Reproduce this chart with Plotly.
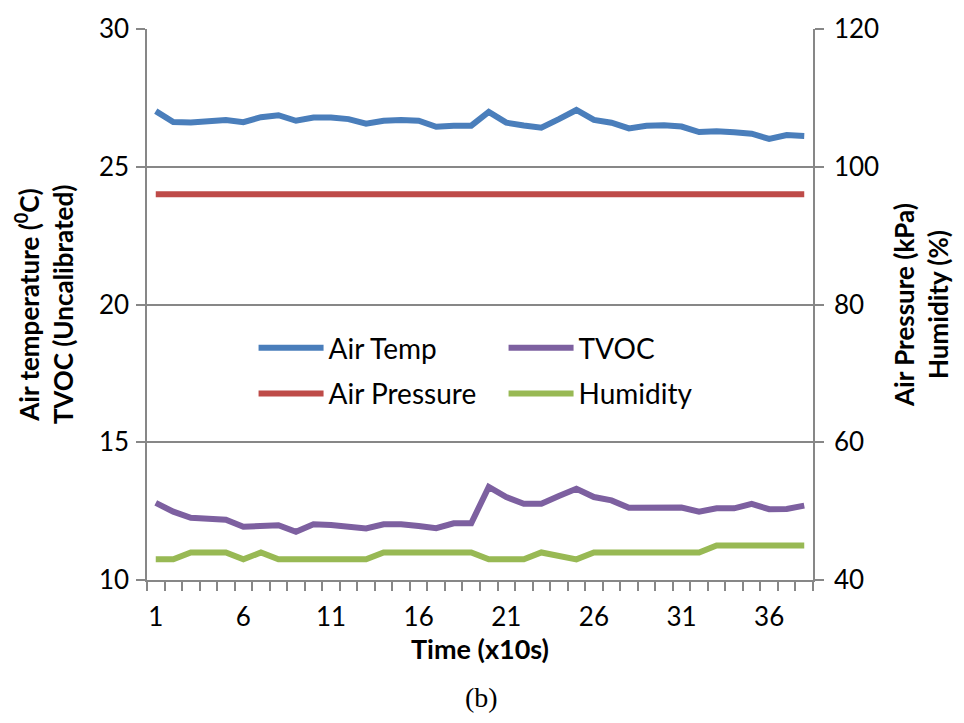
import plotly.graph_objects as go

time_idx = list(range(1, 39))
air_temp = [27.02, 26.62, 26.61, 26.67, 26.70, 26.62, 26.80, 26.87, 26.67, 26.79,
            26.79, 26.73, 26.56, 26.67, 26.70, 26.67, 26.45, 26.49, 26.49, 26.99,
            26.60, 26.50, 26.42, 26.73, 27.06, 26.70, 26.60, 26.39, 26.49, 26.51,
            26.46, 26.26, 26.29, 26.25, 26.20, 26.01, 26.15, 26.12]
tvoc = [12.80, 12.48, 12.26, 12.24, 12.19, 11.93, 11.95, 11.99, 11.75, 12.02,
        12.00, 11.95, 11.87, 12.02, 12.02, 11.96, 11.88, 12.06, 12.06, 13.38,
        13.01, 12.77, 12.77, 13.05, 13.31, 13.01, 12.89, 12.62, 12.62, 12.62,
        12.63, 12.48, 12.60, 12.60, 12.76, 12.57, 12.58, 12.70]
air_pressure = [96.0] * 38
humidity = [43, 43, 44, 44, 44, 43, 44, 43, 43, 43,
            43, 43, 43, 44, 44, 44, 44, 44, 44, 43,
            43, 43, 44, 43.5, 43, 44, 44, 44, 44, 44,
            44, 44, 45, 45, 45, 45, 45, 45]
x_tick_vals = [1, 6, 11, 16, 21, 26, 31, 36]

FONT = "Lato"
GREY = "#878787"
LW = 6

fig = go.Figure()
fig.add_trace(go.Scatter(x=time_idx, y=air_temp, name="Air Temp", mode="lines",
                         line=dict(color="#4A7EBB", width=LW), legend="legend"))
fig.add_trace(go.Scatter(x=time_idx, y=tvoc, name="TVOC", mode="lines",
                         line=dict(color="#7D60A0", width=LW), legend="legend"))
fig.add_trace(go.Scatter(x=time_idx, y=air_pressure, name="Air Pressure", mode="lines",
                         line=dict(color="#BE4B48", width=LW), yaxis="y2", legend="legend2"))
fig.add_trace(go.Scatter(x=time_idx, y=humidity, name="Humidity", mode="lines",
                         line=dict(color="#98B954", width=LW), yaxis="y2", legend="legend2"))

legend_common = dict(orientation="h", font=dict(family=FONT, size=28, color="black"),
                     bgcolor="rgba(0,0,0,0)", entrywidth=170, xanchor="left",
                     yanchor="middle", itemwidth=65)

fig.update_layout(
    width=964, height=723,
    margin=dict(l=147, r=151, t=19, b=143),
    paper_bgcolor="white", plot_bgcolor="white",
    font=dict(family=FONT, size=26, color="black"),
    xaxis=dict(range=[0.5, 38.5], tickvals=x_tick_vals, ticks="",
               showline=True, linecolor=GREY, linewidth=1.5, showgrid=False,
               zeroline=False, tickfont=dict(size=26), ticklabelstandoff=13,
               minor=dict(tick0=0.5, dtick=1, ticks="outside", ticklen=9,
                          tickcolor=GREY, tickwidth=1.5, showgrid=False),
               title=dict(text="<b>Time (x10s)</b>", standoff=6,
                          font=dict(size=27))),
    yaxis=dict(range=[10, 30], dtick=5, ticks="outside", ticklen=9, tickcolor=GREY,
               tickwidth=1.5, showline=True, linecolor=GREY, linewidth=1.5,
               gridcolor=GREY, gridwidth=1.5, zeroline=False,
               tickfont=dict(size=26), ticklabelstandoff=2,
               title=dict(text="<b>Air temperature (<sup>0</sup>C)<br>TVOC (Uncalibrated)</b>",
                          standoff=18, font=dict(size=26))),
    yaxis2=dict(range=[40, 120], dtick=20, overlaying="y", side="right",
                ticks="outside", ticklen=9, tickcolor=GREY, tickwidth=1.5,
                showline=True, linecolor=GREY, linewidth=1.5, showgrid=False,
                zeroline=False, tickfont=dict(size=26), ticklabelstandoff=5,
                title=dict(text="<b>Air Pressure (kPa)<br>Humidity (%)</b>",
                           standoff=18, font=dict(size=26))),
    legend=dict(x=0.16, y=0.421, **legend_common),
    legend2=dict(x=0.16, y=0.338, **legend_common),
    annotations=[dict(text="(b)", xref="paper", yref="paper", x=0.503, y=-0.2135,
                      xanchor="center", yanchor="middle", showarrow=False,
                      font=dict(family="Liberation Serif", size=28, color="black"))],
)

fig.write_html("out.html")
